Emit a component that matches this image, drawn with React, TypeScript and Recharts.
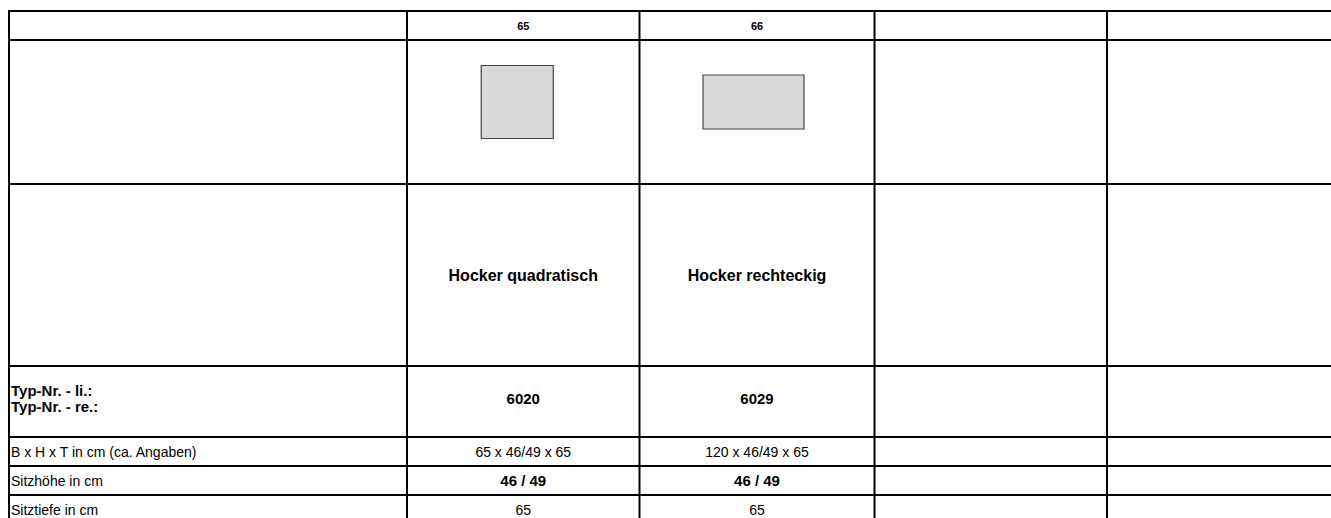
import { ScatterChart, Scatter, XAxis, YAxis, ReferenceLine, ReferenceArea } from "recharts";

// product columns (header numbers) and their values per row
const columnIds = ["65", "66", "", ""];
const productNames = ["Hocker quadratisch", "Hocker rechteckig", "", ""];
const typNumbers = ["6020", "6029", "", ""];
const dimensions = ["65 x 46/49 x 65", "120 x 46/49 x 65", "", ""];
const seatHeights = ["46 / 49", "46 / 49", "", ""];
const seatDepths = ["65", "65", "", ""];
const typLabels = ["Typ-Nr. - li.:", "Typ-Nr. - re.:"];
const rowLabels = ["B x H x T in cm (ca. Angaben)", "Sitzhöhe in cm", "Sitztiefe in cm"];

// table layout (chart units = px)
const W = 1331;
const H = 518;
const COL_EDGES = [9, 407, 639.5, 874.5, 1107];
const ROW_EDGES = [11, 40, 184, 366, 437, 466, 495];
// pictogram boxes: size and horizontal shift from cell centre
const PICTO_BOXES = [
  { w: 72, h: 73, dx: -6 },
  { w: 101, h: 54, dx: -3.5 },
];
const FONT = "'Liberation Sans', Arial, sans-serif";

const colCenter = (i: number) => {
  const a = COL_EDGES[i];
  const b = i + 1 < COL_EDGES.length ? COL_EDGES[i + 1] : a + 233;
  return (a + b) / 2;
};
const rowCenter = (r: number) => {
  const a = ROW_EDGES[r];
  const b = r + 1 < ROW_EDGES.length ? ROW_EDGES[r + 1] : a + 29;
  return (a + b) / 2;
};

type Cell = { x: number; y: number; text: string; anchor?: string };

const valueRow = (vals: string[], r: number, dy = 0): Cell[] =>
  vals.map((text, i) => ({ x: colCenter(i + 1), y: rowCenter(r) + dy, text }));

const headerCells = valueRow(columnIds, 0);
const nameCells = valueRow(productNames, 2);
const typCells = valueRow(typNumbers, 3, -3);
const dimCells = valueRow(dimensions, 4);
const heightCells = valueRow(seatHeights, 5);
const depthCells = valueRow(seatDepths, 6);

const boldLabelCells: Cell[] = typLabels.map((text, i) => ({
  x: COL_EDGES[0] + 2,
  y: rowCenter(3) - 11 + i * 15.5,
  text,
  anchor: "start",
}));
const labelCells: Cell[] = rowLabels.map((text, i) => ({
  x: COL_EDGES[0] + 2,
  y: rowCenter(4 + i),
  text,
  anchor: "start",
}));

const textShape = (size: number, weight: string) => (p: any) => (
  <text
    x={p.cx}
    y={p.cy}
    textAnchor={p.payload.anchor || "middle"}
    dominantBaseline="central"
    fontFamily={FONT}
    fontSize={size}
    fontWeight={weight}
    fill="#000"
  >
    {p.payload.text}
  </text>
);

export default function App() {
  const picY = rowCenter(1) - 10;
  return (
    <div style={{ width: W, height: H, overflow: "hidden" }}>
      <style>{"body{margin:0}"}</style>
      <ScatterChart width={W} height={H} margin={{ top: 0, right: 0, bottom: 0, left: 0 }}>
        <XAxis type="number" dataKey="x" domain={[0, W]} hide />
        <YAxis type="number" dataKey="y" domain={[0, H]} reversed hide />

        {PICTO_BOXES.map((p, i) => (
          <ReferenceArea
            key={"pic" + i}
            x1={colCenter(i + 1) + p.dx - p.w / 2}
            x2={colCenter(i + 1) + p.dx + p.w / 2}
            y1={picY - p.h / 2}
            y2={picY + p.h / 2}
            fill="#d9d9d9"
            fillOpacity={1}
            stroke="#444"
            strokeWidth={1.2}
            ifOverflow="visible"
          />
        ))}

        {ROW_EDGES.map((y) => (
          <ReferenceLine
            key={"r" + y}
            segment={[{ x: COL_EDGES[0] - 1, y }, { x: W, y }]}
            stroke="#000"
            strokeWidth={2}
            ifOverflow="visible"
          />
        ))}
        {COL_EDGES.map((x) => (
          <ReferenceLine
            key={"c" + x}
            segment={[{ x, y: ROW_EDGES[0] - 1 }, { x, y: H }]}
            stroke="#000"
            strokeWidth={2}
            ifOverflow="visible"
          />
        ))}

        <Scatter data={headerCells} shape={textShape(11, "bold")} isAnimationActive={false} />
        <Scatter data={nameCells} shape={textShape(16, "bold")} isAnimationActive={false} />
        <Scatter data={typCells} shape={textShape(15, "bold")} isAnimationActive={false} />
        <Scatter data={boldLabelCells} shape={textShape(15, "bold")} isAnimationActive={false} />
        <Scatter data={dimCells} shape={textShape(14, "normal")} isAnimationActive={false} />
        <Scatter data={labelCells} shape={textShape(14, "normal")} isAnimationActive={false} />
        <Scatter data={heightCells} shape={textShape(15, "bold")} isAnimationActive={false} />
        <Scatter data={depthCells} shape={textShape(14, "normal")} isAnimationActive={false} />
      </ScatterChart>
    </div>
  );
}
